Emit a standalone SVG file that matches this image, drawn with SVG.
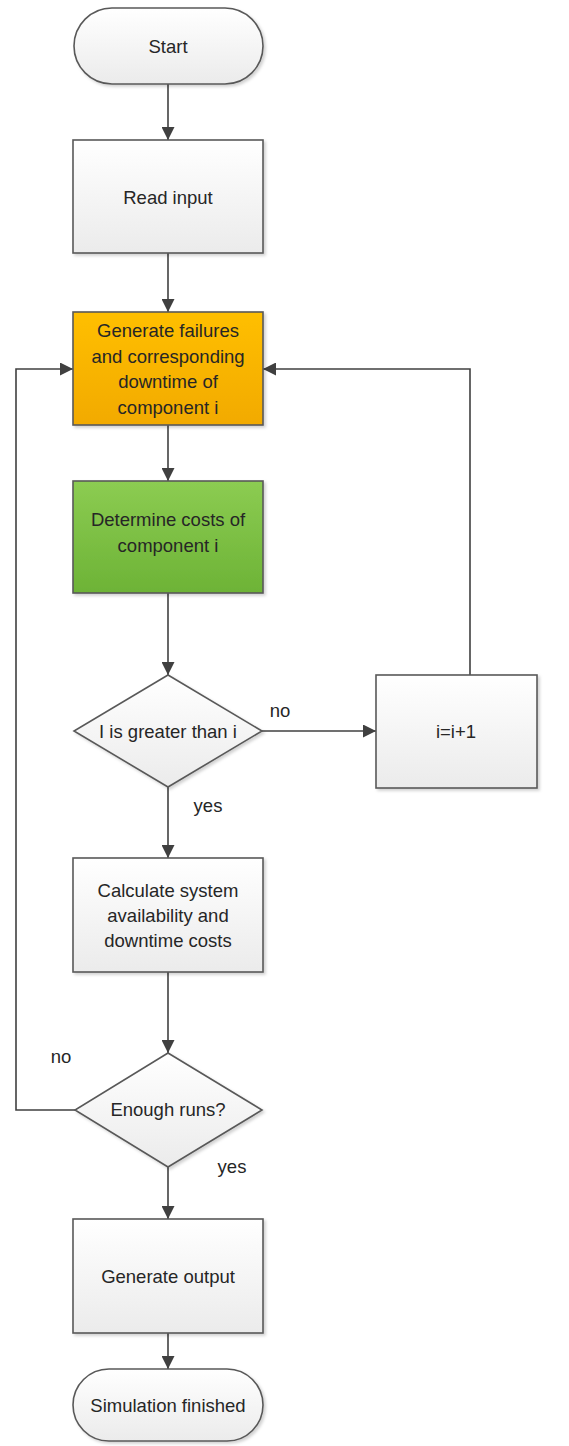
<svg xmlns="http://www.w3.org/2000/svg" width="569" height="1446" viewBox="0 0 569 1446">
<style>
.shape{stroke:#595959;stroke-width:1.6}
.grey{fill:url(#gGrey)}
.orange{fill:url(#gOrange)}
.green{fill:url(#gGreen)}
.lbl{font-family:"Liberation Sans",Arial,sans-serif;font-size:18.5px;fill:#262626;text-anchor:middle;dominant-baseline:central}
.conn{fill:none;stroke:#404040;stroke-width:1.6}
</style>
<defs>
<linearGradient id="gGrey" x1="0" y1="0" x2="0" y2="1"><stop offset="0" stop-color="#ffffff"/><stop offset="1" stop-color="#ebebeb"/></linearGradient>
<linearGradient id="gOrange" x1="0" y1="0" x2="0" y2="1"><stop offset="0" stop-color="#ffbf00"/><stop offset="1" stop-color="#f2aa00"/></linearGradient>
<linearGradient id="gGreen" x1="0" y1="0" x2="0" y2="1"><stop offset="0" stop-color="#8ccc52"/><stop offset="1" stop-color="#6db336"/></linearGradient>
<filter id="sh" x="-10%" y="-10%" width="130%" height="130%"><feDropShadow dx="2" dy="2" stdDeviation="1.5" flood-color="#000" flood-opacity="0.18"/></filter>
<marker id="arrB" viewBox="0 0 12 12" refX="12" refY="6" markerWidth="13" markerHeight="13" markerUnits="userSpaceOnUse" orient="auto"><path d="M0,0 L12,6 L0,12 z" fill="#404040"/></marker>
</defs>
<g id="connectors">
<line class="conn" x1="168" y1="84" x2="168" y2="140" marker-end="url(#arrB)"/>
<line class="conn" x1="168" y1="253" x2="168" y2="312" marker-end="url(#arrB)"/>
<line class="conn" x1="168" y1="425" x2="168" y2="481" marker-end="url(#arrB)"/>
<line class="conn" x1="168" y1="593" x2="168" y2="675" marker-end="url(#arrB)"/>
<line class="conn" x1="262" y1="731" x2="376" y2="731" marker-end="url(#arrB)"/>
<polyline class="conn" points="470,675 470,369 263,369" marker-end="url(#arrB)"/>
<line class="conn" x1="168" y1="787" x2="168" y2="858" marker-end="url(#arrB)"/>
<line class="conn" x1="168" y1="972" x2="168" y2="1053" marker-end="url(#arrB)"/>
<polyline class="conn" points="75,1110 16,1110 16,369 73,369" marker-end="url(#arrB)"/>
<line class="conn" x1="168" y1="1167" x2="168" y2="1219" marker-end="url(#arrB)"/>
<line class="conn" x1="168" y1="1333" x2="168" y2="1369" marker-end="url(#arrB)"/>
<text class="lbl" x="280" y="710">no</text>
<text class="lbl" x="208" y="805">yes</text>
<text class="lbl" x="61" y="1056">no</text>
<text class="lbl" x="232" y="1166">yes</text>
</g>
<g id="start">
<rect class="shape grey" x="74" y="8" width="189" height="76" rx="38" ry="38" filter="url(#sh)"/>
<text class="lbl" x="168" y="46">Start</text>
</g>
<g id="read-input">
<rect class="shape grey" x="73" y="140" width="190" height="113" filter="url(#sh)"/>
<text class="lbl" x="168" y="197">Read input</text>
</g>
<g id="generate-failures">
<rect class="shape orange" x="73" y="312" width="190" height="113" filter="url(#sh)"/>
<text class="lbl" x="168" y="330">Generate failures</text>
<text class="lbl" x="168" y="356">and corresponding</text>
<text class="lbl" x="168" y="381">downtime of</text>
<text class="lbl" x="168" y="407">component i</text>
</g>
<g id="determine-costs">
<rect class="shape green" x="73" y="481" width="190" height="112" filter="url(#sh)"/>
<text class="lbl" x="168" y="519">Determine costs of</text>
<text class="lbl" x="168" y="545">component i</text>
</g>
<g id="decision-i">
<polygon class="shape grey" points="168,675 262,731 168,787 74,731" filter="url(#sh)"/>
<text class="lbl" x="168" y="731">I is greater than i</text>
</g>
<g id="increment">
<rect class="shape grey" x="376" y="675" width="161" height="113" filter="url(#sh)"/>
<text class="lbl" x="456" y="731">i=i+1</text>
</g>
<g id="calculate">
<rect class="shape grey" x="73" y="858" width="190" height="114" filter="url(#sh)"/>
<text class="lbl" x="168" y="890">Calculate system</text>
<text class="lbl" x="168" y="915">availability and</text>
<text class="lbl" x="168" y="940">downtime costs</text>
</g>
<g id="decision-runs">
<polygon class="shape grey" points="168,1053 262,1110 168,1167 75,1110" filter="url(#sh)"/>
<text class="lbl" x="168" y="1109">Enough runs?</text>
</g>
<g id="generate-output">
<rect class="shape grey" x="73" y="1219" width="190" height="114" filter="url(#sh)"/>
<text class="lbl" x="168" y="1276">Generate output</text>
</g>
<g id="finished">
<rect class="shape grey" x="73" y="1369" width="190" height="72" rx="36" ry="36" filter="url(#sh)"/>
<text class="lbl" x="168" y="1405">Simulation finished</text>
</g>
</svg>
